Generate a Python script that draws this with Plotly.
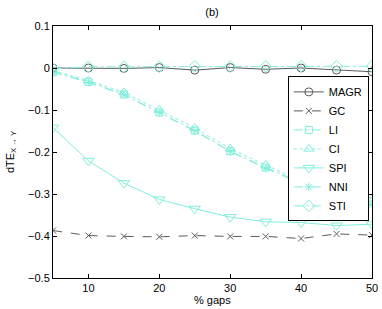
import plotly.graph_objects as go

gaps = [5, 10, 15, 20, 25, 30, 35, 40, 45, 50]
magr = [0.0, 0.0, -0.001, 0.001, -0.005, 0.001, -0.003, 0.0, -0.005, -0.009]
gc = [-0.387, -0.399, -0.401, -0.402, -0.399, -0.401, -0.401, -0.406, -0.395, -0.398]
li = [-0.010, -0.033, -0.063, -0.106, -0.149, -0.198, -0.237, -0.272, -0.300, -0.318]
ci = [-0.006, -0.030, -0.058, -0.100, -0.143, -0.192, -0.231, -0.268, -0.296, -0.312]
spi = [-0.142, -0.221, -0.274, -0.313, -0.335, -0.355, -0.366, -0.368, -0.375, -0.372]
nni = [-0.010, -0.034, -0.064, -0.106, -0.150, -0.199, -0.239, -0.275, -0.303, -0.325]
sti = [-0.002, 0.003, 0.003, 0.003, 0.004, 0.003, 0.004, 0.004, 0.004, 0.004]

yticks = [-0.5, -0.4, -0.3, -0.2, -0.1, 0, 0.1]
ytext = ["\u22120.5", "\u22120.4", "\u22120.3", "\u22120.2", "\u22120.1", "0", "0.1"]
xticks = [10, 20, 30, 40, 50]

cyan = "rgb(130,238,220)"
gray = "rgb(90,90,90)"

fig = go.Figure()
def add(name, y, color, dash, symbol, size=8):
    fig.add_trace(go.Scatter(
        x=gaps, y=y, name=name, mode="lines+markers",
        line=dict(color=color, width=1, dash=dash),
        marker=dict(symbol=symbol, size=size, color=color,
                    line=dict(color=color, width=1)),
    ))

add("MAGR", magr, gray, "solid", "circle-open", 8)
add("GC", gc, gray, "dash", "x-thin-open", 6)
add("LI", li, cyan, "dashdot", "square-open", 7)
add("CI", ci, cyan, "dot", "triangle-up-open", 9)
add("SPI", spi, cyan, "solid", "triangle-down-open", 10)
add("NNI", nni, cyan, "dash", "asterisk-open", 7)
add("STI", sti, cyan, "dashdot", "diamond-open", 9)

axis_common = dict(showline=True, linecolor="black", linewidth=1, mirror="ticks",
                   ticks="inside", ticklen=4, tickcolor="black", showgrid=False,
                   zeroline=False, automargin=False,
                   tickfont=dict(size=11, color="black"))

fig.update_layout(
    width=382, height=309,
    margin=dict(l=53, r=10, t=26, b=31),
    plot_bgcolor="white", paper_bgcolor="white",
    font=dict(family="Liberation Sans, Arial, sans-serif", size=11, color="black"),
    title=dict(text="(b)", x=0.555, xanchor="center", y=0.96, yanchor="middle",
               font=dict(size=11)),
    xaxis=dict(range=[5, 50], tickvals=xticks, **axis_common),
    yaxis=dict(range=[-0.5, 0.1], tickvals=yticks, ticktext=ytext,
               title=dict(text="dTE<sub>X \u2192 Y</sub>", standoff=11, font=dict(size=11)),
               **axis_common),
    legend=dict(x=0.99, y=0.80, xanchor="right", yanchor="top",
                bgcolor="white", bordercolor="black", borderwidth=1,
                font=dict(size=11), tracegroupgap=0, itemwidth=30),
    showlegend=True,
    annotations=[dict(text="% gaps", x=0.5, y=0, xref="paper", yref="paper",
                      xanchor="center", yanchor="middle", yshift=-22,
                      showarrow=False, font=dict(size=11))],
)

fig.write_html("out.html", config={"displayModeBar": False},
               post_script="document.body.style.margin='0';document.body.style.overflow='hidden';")
